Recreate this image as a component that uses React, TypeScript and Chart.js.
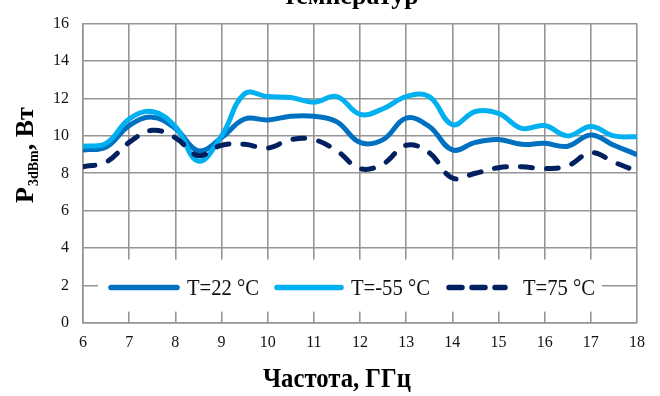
import React, { useEffect, useRef } from "react";
import { Chart, registerables } from "chart.js";

Chart.register(...registerables);

const freqs = [6, 6.5, 7, 7.5, 8, 8.5, 9, 9.5, 10, 10.5, 11, 11.5, 12, 12.5, 13, 13.5, 14, 14.5, 15, 15.5, 16, 16.5, 17, 17.5, 18];
const t22 = [9.25, 9.4, 10.55, 11.0, 10.4, 9.2, 9.9, 10.9, 10.85, 11.05, 11.05, 10.75, 9.65, 9.8, 10.95, 10.5, 9.25, 9.65, 9.8, 9.55, 9.6, 9.45, 10.05, 9.5, 9.0];
const tm55 = [9.45, 9.6, 10.9, 11.3, 10.5, 8.65, 10.0, 12.25, 12.1, 12.05, 11.8, 12.1, 11.15, 11.45, 12.1, 12.1, 10.6, 11.3, 11.2, 10.4, 10.55, 10.0, 10.5, 10.0, 9.95];
const t75 = [8.35, 8.6, 9.65, 10.3, 9.9, 8.95, 9.5, 9.55, 9.35, 9.8, 9.8, 9.2, 8.25, 8.5, 9.5, 9.1, 7.75, 8.0, 8.3, 8.35, 8.25, 8.4, 9.1, 8.6, 8.1];

const seriesLabels = ["T=22 °C", "T=-55 °C", "T=75 °C"];
const seriesColors = ["#0070C0", "#00B0F0", "#002060"];
const xTicksMin = 6;
const xTicksMax = 18;
const yTicksMin = 0;
const yTicksMax = 16;
const titleText = "температур";
const xTitle = "Частота, ГГц";
const yTitleMain = "P";
const yTitleSub = "3dBm";
const yTitleRest = ", Вт";

const SERIF = "'Liberation Serif', 'DejaVu Serif', serif";
const GRID = "#959595";

const toPoints = (vals: number[]) => vals.map((v, i) => ({ x: freqs[i], y: v }));

const textPlugin = {
  id: "customText",
  afterDatasetsDraw(chart: any) {
    const ctx = chart.ctx as CanvasRenderingContext2D;
    const area = chart.chartArea;
    ctx.save();
    const bx = area.left + 15;
    const by = area.top + 236;
    const bw = 504;
    const bh = 52;
    ctx.fillStyle = "#ffffff";
    ctx.fillRect(bx, by, bw, bh);
    const cy = by + 28;
    const items = [
      { lx: 108, lw: 72, tx: 187, dash: false },
      { lx: 274, lw: 70, tx: 351, dash: false },
      { lx: 446, lw: 62, tx: 523, dash: true },
    ];
    items.forEach((it, i) => {
      ctx.save();
      ctx.strokeStyle = seriesColors[i];
      ctx.lineWidth = 5.5;
      ctx.lineCap = "round";
      if (it.dash) ctx.setLineDash([13, 10]);
      ctx.beginPath();
      ctx.moveTo(it.lx + 3, cy);
      ctx.lineTo(it.lx + it.lw - 3, cy);
      ctx.stroke();
      ctx.restore();
      ctx.save();
      ctx.fillStyle = "#111";
      ctx.font = `24px ${SERIF}`;
      ctx.textBaseline = "middle";
      ctx.translate(it.tx, cy + 1);
      ctx.scale(0.86, 1);
      ctx.fillText(seriesLabels[i], 0, 0);
      ctx.restore();
    });
    ctx.restore();
  },
  afterDraw(chart: any) {
    const ctx = chart.ctx as CanvasRenderingContext2D;
    ctx.save();
    ctx.fillStyle = "#000";
    ctx.font = `bold 26px ${SERIF}`;
    ctx.textAlign = "center";
    ctx.textBaseline = "alphabetic";
    ctx.fillText(titleText, 351, 4);
    ctx.save();
    ctx.translate(337, 387);
    ctx.scale(0.95, 1.08);
    ctx.fillText(xTitle, 0, 0);
    ctx.restore();
    ctx.textAlign = "left";
    ctx.translate(33, 203);
    ctx.rotate(-Math.PI / 2);
    ctx.font = `bold 26px ${SERIF}`;
    ctx.fillText(yTitleMain, 0, 0);
    let x = ctx.measureText(yTitleMain).width + 1;
    ctx.font = `bold 14px ${SERIF}`;
    ctx.fillText(yTitleSub, x, 5);
    x += ctx.measureText(yTitleSub).width;
    ctx.font = `bold 26px ${SERIF}`;
    ctx.fillText(yTitleRest, x, 0);
    ctx.restore();
  },
};

export default function App() {
  const ref = useRef<HTMLCanvasElement | null>(null);
  useEffect(() => {
    document.body.style.margin = "0";
    const canvas = ref.current!;
    const mk = (i: number, vals: number[], order: number, dash: boolean) => ({
      label: seriesLabels[i],
      data: toPoints(vals),
      borderColor: seriesColors[i],
      backgroundColor: seriesColors[i],
      borderWidth: 5,
      borderCapStyle: "round" as const,
      borderJoinStyle: "round" as const,
      borderDash: dash ? [12, 14] : [],
      pointRadius: 0,
      tension: 0.4,
      fill: false,
      order,
    });
    const chart = new Chart(canvas, {
      type: "line",
      data: {
        datasets: [mk(0, t22, 2, false), mk(1, tm55, 1, false), mk(2, t75, 0, true)],
      },
      options: {
        animation: false,
        responsive: false,
        maintainAspectRatio: false,
        layout: { padding: { top: 11, right: 23, left: 0, bottom: 0 } },
        plugins: { legend: { display: false }, tooltip: { enabled: false }, title: { display: false } },
        scales: {
          x: {
            type: "linear",
            min: xTicksMin,
            max: xTicksMax,
            afterFit: (s: any) => {
              s.height = 73;
            },
            ticks: { stepSize: 1, color: "#111", font: { family: SERIF, size: 16 }, padding: 10, maxRotation: 0 },
            grid: { color: GRID, lineWidth: 1.6, drawTicks: false },
            border: { color: GRID, width: 1.6 },
          },
          y: {
            min: yTicksMin,
            max: yTicksMax,
            afterFit: (s: any) => {
              s.width = 83;
            },
            ticks: { stepSize: 2, color: "#111", font: { family: SERIF, size: 16 }, padding: 14 },
            grid: { color: GRID, lineWidth: 1.6, drawTicks: false },
            border: { color: GRID, width: 1.6 },
          },
        },
      },
      plugins: [textPlugin],
    });
    return () => chart.destroy();
  }, []);
  return (
    <div style={{ position: "absolute", left: 0, top: 0, width: 660, height: 396, background: "#fff" }}>
      <canvas ref={ref} width={660} height={396} style={{ display: "block" }} />
    </div>
  );
}
